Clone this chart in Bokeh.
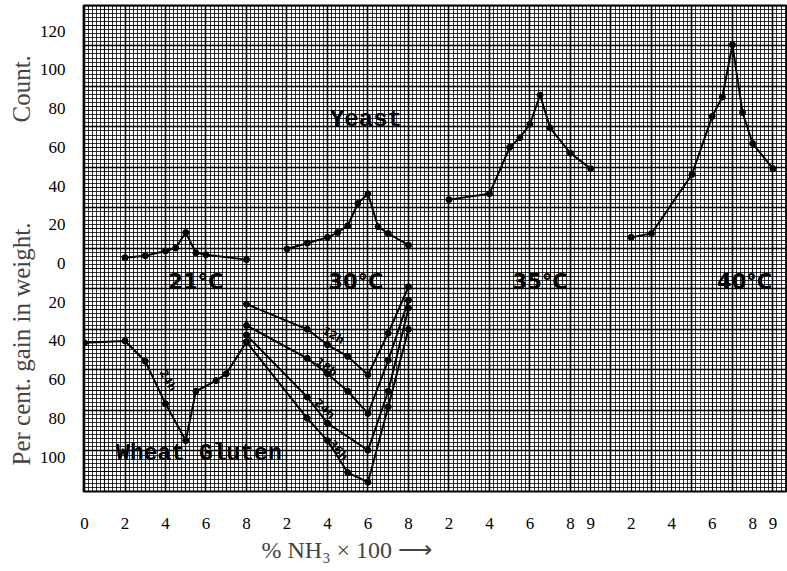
import math
import numpy as np
from bokeh.plotting import figure
from bokeh.models import Range1d, FixedTicker, Label, Grid, Title
from bokeh.embed import file_html
from bokeh.resources import INLINE

# ---------------- data ----------------
# x axis is four consecutive sections (% NH3 x 100 within each section)
section_names = ["21°C", "30°C", "35°C", "40°C"]
section_offsets = [0, 8, 16, 25]
section_tick_values = [[0, 2, 4, 6, 8], [2, 4, 6, 8], [2, 4, 6, 8, 9], [2, 4, 6, 8, 9]]

# Yeast (count), plotted upward
yeast21_x = [2, 3, 4, 4.5, 5, 5.5, 6, 8]
yeast21_y = [3, 4, 6.5, 8, 16, 5.5, 4.5, 2]
yeast30_x = [2, 3, 4, 4.5, 5, 5.5, 6, 6.5, 7, 8]
yeast30_y = [7.5, 10.5, 13.5, 16, 19.5, 31, 36, 19, 15.5, 9.5]
yeast35_x = [2, 4, 5, 5.5, 6, 6.5, 7, 8, 9]
yeast35_y = [33, 36, 60, 65, 72, 87, 70, 57, 49]
yeast40_x = [2, 3, 5, 6, 6.5, 7, 7.5, 8, 9]
yeast40_y = [13.5, 15.5, 46, 76, 86, 113, 78, 62, 49]

# Wheat gluten (per cent gain in weight), plotted downward
gluten21_x = [0, 2, 3, 4, 5, 5.5, 6.5, 7, 8]
gluten21_y = [41, 40, 50.5, 72.5, 91.5, 66, 60.5, 57, 40.5]
gluten21_label = "24h"

gluten30_labels = ["12h", "18h", "24h", "36h"]
gluten30_x = [[0, 3, 4, 5, 6, 7, 8],
              [0, 3, 4, 5, 6, 7, 8],
              [0, 3, 4, 6, 7, 8],
              [0, 3, 4, 5, 6, 7, 8]]
gluten30_y = [[21, 34, 42, 48, 57.5, 36, 12],
              [32, 49, 57, 66, 77.5, 50, 19],
              [37, 69, 82.5, 96.5, 66, 23],
              [40.5, 80, 91.5, 108, 113, 74, 34]]

y_ticks = [-100, -80, -60, -40, -20, 0, 20, 40, 60, 80, 100, 120]

# ---------------- figure ----------------
p = figure(width=787, height=571, output_backend="svg", toolbar_location=None,
           x_range=Range1d(-0.05, 34.67), y_range=Range1d(-117.8, 133.3),
           min_border_left=83, min_border_right=1, min_border_top=5, min_border_bottom=80)
p.background_fill_color = "white"
p.border_fill_color = "white"
p.outline_line_color = "black"
p.outline_line_width = 1.8

# graph-paper grid
gx_major = list(np.arange(0, 35.0, 2.0))
gx_minor = list(np.arange(0, 35.0, 0.2))
gx_half = list(np.arange(1, 35.0, 2.0))
gy_step = 20.93
gy_major = list(-117.8 + gy_step * np.arange(13))
gy_minor = list(-117.8 + gy_step / 10 * np.arange(130))
gy_half = list(-117.8 + gy_step / 2 + gy_step * np.arange(12))

p.xgrid.ticker = FixedTicker(ticks=gx_major, minor_ticks=gx_minor)
p.ygrid.ticker = FixedTicker(ticks=gy_major, minor_ticks=gy_minor)
for g in (p.xgrid, p.ygrid):
    g.grid_line_color = "black"
    g.grid_line_width = 1.6
    g.minor_grid_line_color = "black"
    g.minor_grid_line_alpha = 0.8
    g.minor_grid_line_width = 1.0
p.add_layout(Grid(dimension=0, ticker=FixedTicker(ticks=gx_half), grid_line_color="black",
                  grid_line_width=1.2, grid_line_alpha=0.9))
p.add_layout(Grid(dimension=1, ticker=FixedTicker(ticks=gy_half), grid_line_color="black",
                  grid_line_width=1.2, grid_line_alpha=0.9))

# axes
x_tick_pos, x_tick_lab = [], []
for off, vals in zip(section_offsets, section_tick_values):
    for v in vals:
        x_tick_pos.append(off + v)
        x_tick_lab.append(str(v))
p.xaxis.ticker = FixedTicker(ticks=x_tick_pos)
p.xaxis.major_label_overrides = {pos: lab for pos, lab in zip(x_tick_pos, x_tick_lab)}
p.yaxis.ticker = FixedTicker(ticks=y_ticks)
p.yaxis.major_label_overrides = {t: str(abs(t)) for t in y_ticks}
for ax in (p.xaxis, p.yaxis):
    ax.axis_line_color = None
    ax.major_tick_line_color = None
    ax.minor_tick_line_color = None
    ax.major_label_text_font = "Liberation Serif"
    ax.major_label_text_font_size = "17px"
    ax.major_label_text_color = "black"
p.xaxis.major_label_standoff = 20
p.yaxis.major_label_standoff = 12

# axis titles (as side titles so they can be placed off-centre)
p.add_layout(Title(text="Per cent. gain in weight.\u2003\u2003\u2003\u2003Count.", align="left",
                   offset=26, standoff=3, text_font="Liberation Serif",
                   text_font_size="25px", text_font_style="normal"), "left")
p.add_layout(Title(text="% NH\u2083 \u00d7 100 \u27f6", align="left", offset=178, standoff=6,
                   text_font="Liberation Serif", text_font_size="24px",
                   text_font_style="normal"), "below")

# curves
def draw(xs, ys, off, sign):
    xx = [off + x for x in xs]
    yy = [sign * y for y in ys]
    p.line(xx, yy, line_color="black", line_width=2)
    p.scatter(xx, yy, marker="circle", size=6, fill_color="black", line_color="black")

for xs, ys, off in zip([yeast21_x, yeast30_x, yeast35_x, yeast40_x],
                       [yeast21_y, yeast30_y, yeast35_y, yeast40_y], section_offsets):
    draw(xs, ys, off, 1)
draw(gluten21_x, gluten21_y, section_offsets[0], -1)
for xs, ys in zip(gluten30_x, gluten30_y):
    draw(xs, ys, section_offsets[1], -1)

# texts inside the chart
def lab(x, y, text, font="Liberation Serif", size="20px", style="normal", angle=0.0,
        align="center"):
    p.add_layout(Label(x=x, y=y, text=text, text_font=font, text_font_size=size,
                       text_font_style=style, angle=angle, text_align=align,
                       text_baseline="middle", text_color="black"))

lab(13.9, 74.4, "Yeast", font="Liberation Mono", size="24px", style="bold")
lab(5.65, -98.2, "Wheat Gluten", font="Liberation Mono", size="23px", style="bold")

temp_x = [5.5, 13.4, 22.5, 32.6]
for tx, name in zip(temp_x, section_names):
    lab(tx, -9.3, name, font="DejaVu Sans", size="21px", style="bold")

lab(4.11, -60.5, gluten21_label, font="DejaVu Sans", size="11px", style="bold",
    angle=-math.radians(62))
curve_label_x = [12.28, 11.95, 11.86, 12.53]
curve_label_y = [-37.2, -53.6, -75.1, -96.6]
curve_label_angle = [30, 36, 43, 49]
for lx, ly, la, t in zip(curve_label_x, curve_label_y, curve_label_angle, gluten30_labels):
    lab(lx, ly, t, font="DejaVu Sans", size="11px", style="bold", angle=-math.radians(la))

open("out.html", "w").write(file_html(p, INLINE))
